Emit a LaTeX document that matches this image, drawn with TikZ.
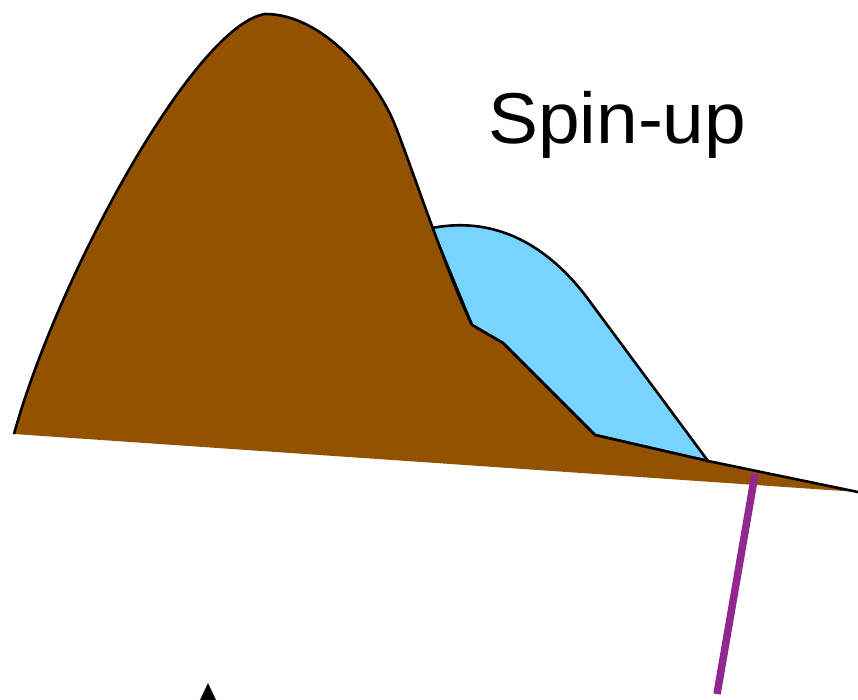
\documentclass[tikz,border=0pt]{standalone}
\usepackage{fontspec}
\setmainfont{Liberation Sans}
\definecolor{brownfill}{RGB}{147,82,0}
\definecolor{bluefill}{RGB}{119,212,255}
\definecolor{purpleline}{RGB}{146,39,143}
\tikzset{outline/.style={draw=black,line width=2.6pt,line join=round}}
\begin{document}
\begin{tikzpicture}[x=1pt,y=-1pt]
\useasboundingbox (0,0) rectangle (858,699);
% blue spin-up region
\filldraw[fill=bluefill,outline]
  (432,228) .. controls (500,215) and (550,250) .. (585,295) -- (708,461)
  -- (595,435) -- (503,343) -- (472,325) -- cycle;
% brown region fill
\fill[brownfill]
  (14,434) .. controls (58,275) and (195,25) .. (265,14)
  .. controls (324,14) and (375,80) .. (392,118)
  .. controls (404,144) and (445,270) .. (472,325)
  -- (503,343) -- (595,435) -- (708,461) -- (858,492) -- (14,434) -- cycle;
% brown outline (top edge only)
\draw[outline]
  (14,434) .. controls (58,275) and (195,25) .. (265,14)
  .. controls (324,14) and (375,80) .. (392,118)
  .. controls (404,144) and (445,270) .. (472,325)
  -- (503,343) -- (595,435) -- (708,461) -- (858,492);
% purple line
\coordinate (ptop) at (755,474);
\coordinate (pbot) at (717,694);
\draw[purpleline,line width=7.5pt] (ptop) -- (pbot);
% black arrowhead at bottom
\fill[black] (199,702) -- (208,683) -- (217,702) -- cycle;
% label
\node[anchor=base west,inner sep=0pt,font=\fontsize{72}{72}\selectfont] (lbl) at (488,143) {\scalebox{1.04}[1]{Spin-up}};
\end{tikzpicture}
\end{document}
